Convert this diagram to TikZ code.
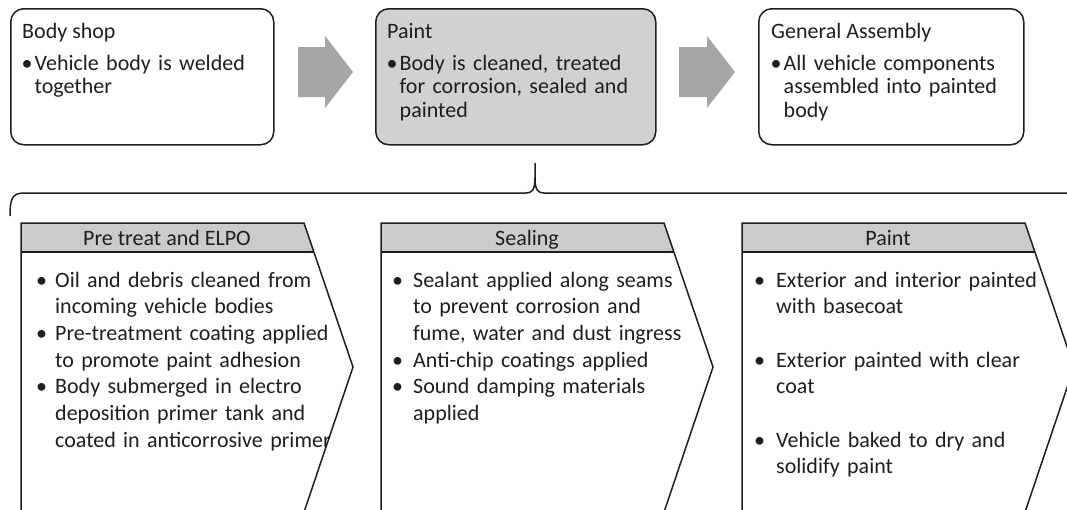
\documentclass[tikz,border=0pt]{standalone}
\usepackage{fontspec}
\setmainfont{Carlito}
\definecolor{ink}{HTML}{1E1E1E}
\definecolor{arrowgray}{HTML}{A5A5A5}
\definecolor{stagefill}{HTML}{D1D1D1}
\definecolor{headfill}{HTML}{CBCBCB}
\newlength\bulw
\newlength\bulo
% one bulleted line, and a continuation line indented under the text
\newcommand\bl[1]{\noindent\makebox[\bulw][l]{\hspace*{\bulo}\textbullet}#1\par}
\newcommand\cl[1]{\noindent\hspace*{\bulw}#1\par}
\newcommand\gap{\noindent\mbox{}\par}
\begin{document}
\begin{tikzpicture}[x=1pt,y=-1pt,
  stagebox/.style={draw=ink, line width=1.5pt, rounded corners=13pt, inner sep=0pt, anchor=north west},
  blockarrow/.style={fill=arrowgray, draw=none},
  stepshape/.style={draw=ink, line width=1.5pt, line join=miter},
  titletext/.style={anchor=base west, inner sep=0pt, text=ink, font=\fontsize{22}{23.5}\selectfont},
  toplist/.style={anchor=base west, inner sep=0pt, text=ink, text width=300pt,
    font=\fontsize{22}{23.5}\selectfont,
    execute at begin node={\setlength\bulw{13.5pt}\setlength\bulo{0.5pt}}},
  headtext/.style={anchor=base, inner sep=0pt, text=ink, font=\fontsize{22}{26}\selectfont},
  steplist/.style={anchor=base west, inner sep=0pt, text=ink, text width=330pt,
    font=\fontsize{22}{26.7}\selectfont,
    execute at begin node={\setlength\bulw{#1}\setlength\bulo{0pt}}},
  brace/.style={draw=ink, line width=1.5pt}
]
\clip (0,0) rectangle (1067,509);

% ---- the three stages of the plant ----
\node[stagebox, minimum width=263pt, minimum height=136pt] (bodyshop) at (10,8) {};
\node[stagebox, fill=stagefill, minimum width=280pt, minimum height=136pt] (paint) at (375,8) {};
\node[stagebox, minimum width=265pt, minimum height=136pt] (assembly) at (758,8) {};

\node[titletext] (bodyshopT) at (22,38) {Body shop};
\node[toplist] (bodyshopL) at (21,70) {\bl{Vehicle body is welded}\cl{together}};

\node[titletext] (paintT) at (387,38) {Paint};
\node[toplist] (paintL) at (386,70) {\bl{Body is cleaned, treated}\cl{for corrosion, sealed and}\cl{painted}};

\node[titletext] (assemblyT) at (771,38) {General Assembly};
\node[toplist] (assemblyL) at (770,70) {\bl{All vehicle components}\cl{assembled into painted}\cl{body}};

% block arrows between the stages
\fill[blockarrow] (298,47) -- (325,47) -- (325,36) -- (353,72) -- (325,108) -- (325,97) -- (298,97) -- cycle;
\fill[blockarrow] (679,47) -- (707,47) -- (707,36) -- (735,72) -- (707,108) -- (707,97) -- (679,97) -- cycle;

% ---- brace opening the paint stage ----
\draw[brace] (10,216) .. controls (10,199) and (12,193) .. (24,193) -- (526,193)
  .. controls (532,193) and (535,190) .. (535,178) -- (535,163);
\draw[brace] (535,178) .. controls (535,190) and (538,193) .. (544,193) -- (1075,193);

% ---- the three paint-shop steps ----
\foreach \lx/\nm in {21/pretreat, 381/sealing, 742/painting}{
  \fill[headfill] (\lx,223) -- ({\lx+283},223) -- ({\lx+283+9.9},252) -- (\lx,252) -- cycle;
  \draw[stepshape] (\lx,252) -- ({\lx+283+9.9},252);
  \draw[stepshape] (\lx,530) -- (\lx,223) -- ({\lx+283},223) -- ({\lx+332},367) -- ({\lx+277},530);
}

\node[headtext] (pretreatH) at (167,245) {Pre treat and ELPO};
\node[headtext] (sealingH) at (527,245) {Sealing};
\node[headtext] (paintingH) at (888,245) {Paint};

\node[steplist=19pt] (pretreatL) at (36,287) {%
  \bl{Oil and debris cleaned from}\cl{incoming vehicle bodies}%
  \bl{Pre-treatment coating applied}\cl{to promote paint adhesion}%
  \bl{Body submerged in electro}\cl{deposition primer tank and}\cl{coated in anticorrosive primer}};

\node[steplist=21pt] (sealingL) at (392,287) {%
  \bl{Sealant applied along seams}\cl{to prevent corrosion and}\cl{fume, water and dust ingress}%
  \bl{Anti-chip coatings applied}%
  \bl{Sound damping materials}\cl{applied}};

\node[steplist=22pt] (paintingL) at (754,287) {%
  \bl{Exterior and interior painted}\cl{with basecoat}\gap
  \bl{Exterior painted with clear}\cl{coat}\gap
  \bl{Vehicle baked to dry and}\cl{solidify paint}};
\end{tikzpicture}
\end{document}
